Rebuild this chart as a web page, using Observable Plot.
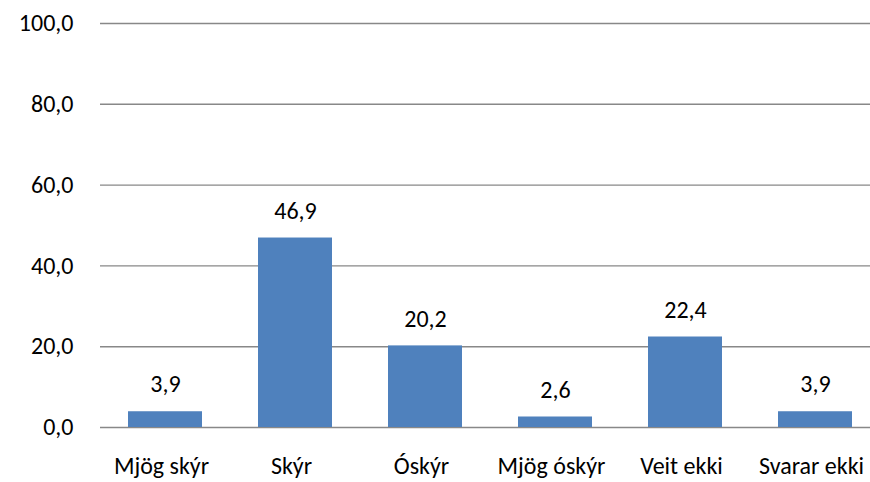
<!DOCTYPE html>
<html>
<head>
<meta charset="utf-8">
<script src="https://cdn.jsdelivr.net/npm/d3@7"></script>
<script src="https://cdn.jsdelivr.net/npm/@observablehq/plot@0.6"></script>
<style>
  html, body { margin: 0; padding: 0; background: #fff; overflow: hidden; width: 870px; height: 482px; }
  #chart svg { max-width: none !important; font-family: Carlito, Calibri, Lato, "Open Sans", sans-serif; }
</style>
</head>
<body>
<div id="chart"></div>
<script>
const categories = ["Mjög skýr", "Skýr", "Óskýr", "Mjög óskýr", "Veit ekki", "Svarar ekki"];
const values = [3.9, 46.9, 20.2, 2.6, 22.4, 3.9];
const yTicks = [0, 20, 40, 60, 80, 100];

const data = categories.map((c, i) => ({category: c, value: values[i]}));
const fmt = d => d.toFixed(1).replace(".", ",");
const FS = 24;

const chart = Plot.plot({
  width: 880,
  height: 482,
  marginLeft: 100,
  marginRight: 0,
  marginTop: 23,
  marginBottom: 55,
  style: {fontSize: FS + "px", fontFamily: "Carlito, Calibri, Lato, 'Open Sans', sans-serif", color: "#000", background: "#fff"},
  x: {domain: categories, paddingInner: 0.43, paddingOuter: 0.215, label: null},
  y: {domain: [0, 100], label: null},
  marks: [
    Plot.gridY(yTicks, {stroke: "#888", strokeOpacity: 1, strokeWidth: 1.4}),
    Plot.ruleX([0], {frameAnchor: "left", stroke: "#888", strokeWidth: 1.4}),
    Plot.axisY(yTicks, {tickFormat: fmt, tickSize: 0, tickPadding: 27, fontSize: FS, label: null, fill: "#000"}),
    Plot.axisX({tickSize: 0, tickPadding: 29, dx: -4, fontSize: FS, label: null, fill: "#000"}),
    Plot.barY(data, {x: "category", y: "value", fill: "#4F81BD"}),
    Plot.text(data, {x: "category", y: "value", text: d => fmt(d.value), dy: -27, fontSize: FS, fill: "#000"})
  ]
});
document.getElementById("chart").appendChild(chart);
</script>
</body>
</html>
